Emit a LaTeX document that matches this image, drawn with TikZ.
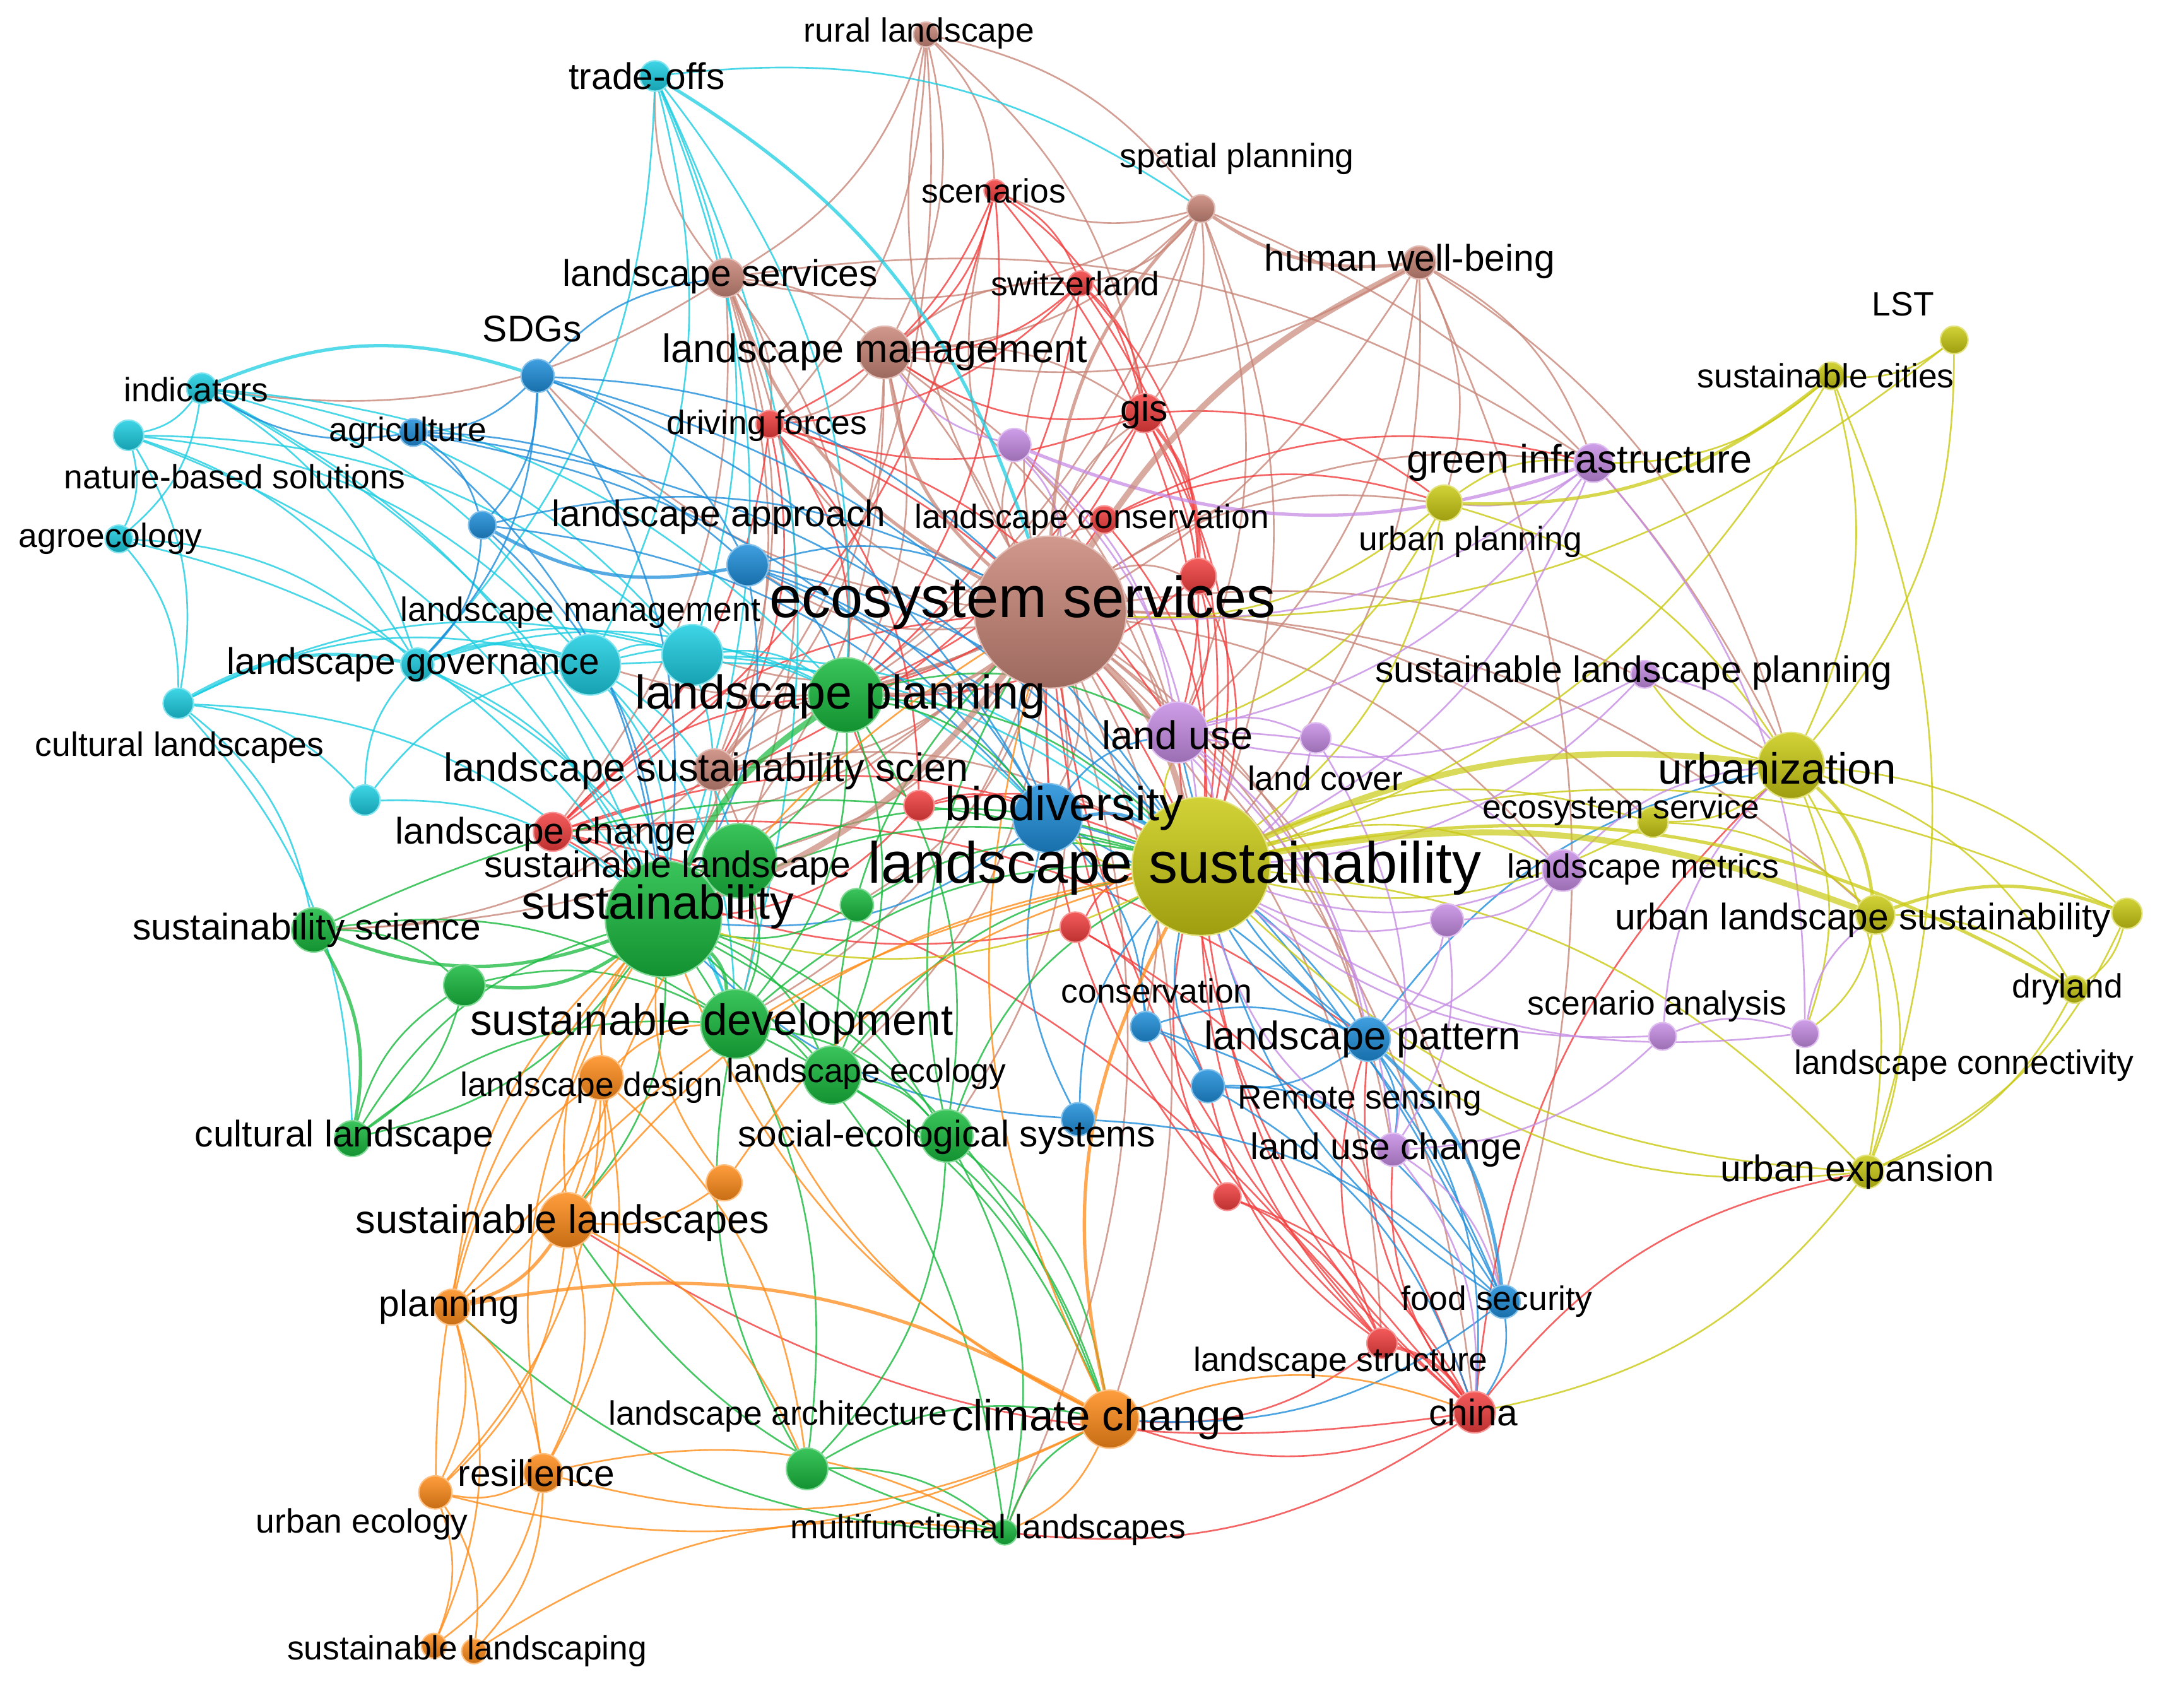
\documentclass[tikz,border=0pt]{standalone}
\usepackage{fontspec}
\setmainfont{Liberation Sans}
\usetikzlibrary{backgrounds}

\definecolor{cbrown}{RGB}{201,134,120}
\definecolor{cred}{RGB}{242,62,62}
\definecolor{ccyan}{RGB}{28,206,226}
\definecolor{cblue}{RGB}{30,142,218}
\definecolor{cgreen}{RGB}{24,186,62}
\definecolor{corange}{RGB}{255,140,26}
\definecolor{cyellow}{RGB}{202,202,20}
\definecolor{cpurple}{RGB}{198,140,228}

\tikzset{
  kw/.style 2 args={circle, inner sep=0pt, minimum size=#1pt, top color=#2!85!white, bottom color=#2!78!black, draw=#2!55!white, line width=0.5pt},
  lnk/.style={draw=#1, line width=0.6pt, draw opacity=0.8},
  mid/.style={draw=#1, line width=1.2pt, draw opacity=0.75},
  hvy/.style={draw=#1, line width=2.2pt, draw opacity=0.7},
  lbA/.style={inner sep=0pt, font=\fontsize{12.2}{14}\selectfont},
  lbB/.style={inner sep=0pt, font=\fontsize{13.4}{15}\selectfont},
  lbC/.style={inner sep=0pt, font=\fontsize{14.4}{16}\selectfont},
  lbD/.style={inner sep=0pt, font=\fontsize{15.8}{18}\selectfont},
  lbE/.style={inner sep=0pt, font=\fontsize{17.2}{20}\selectfont},
  lbF/.style={inner sep=0pt, font=\fontsize{21}{24}\selectfont},
}

\begin{document}
\begin{tikzpicture}[x=0.5pt, y=-0.5pt]
\useasboundingbox (0,0) rectangle (1568,1236);

% keywords, brown cluster
\node[kw={9}{cbrown}] (rural) at (670,25) {};
\node[kw={10}{cbrown}] (spatial) at (869,151) {};
\node[kw={12}{cbrown}] (hwb) at (1027,190) {};
\node[kw={14}{cbrown}] (lserv) at (525,201) {};
\node[kw={19}{cbrown}] (lmgmt) at (640,255) {};
\node[kw={15}{cbrown}] (lss) at (517,557) {};
% red cluster
\node[kw={8}{cred}] (scen) at (720,138) {};
\node[kw={9}{cred}] (swiss) at (782,205) {};
\node[kw={14}{cred}] (gis) at (828,299) {};
\node[kw={10}{cred}] (drive) at (557,307) {};
\node[kw={10}{cred}] (lcons) at (799,376) {};
\node[kw={13}{cred}] (red1) at (867,417) {};
\node[kw={11}{cred}] (red2) at (665,583) {};
\node[kw={14}{cred}] (lchange) at (400,602) {};
\node[kw={11}{cred}] (red3) at (778,671) {};
\node[kw={10}{cred}] (red4) at (888,866) {};
\node[kw={11}{cred}] (lstruct) at (1000,972) {};
\node[kw={15}{cred}] (china) at (1067,1022) {};
% cyan cluster
\node[kw={11}{ccyan}] (trade) at (474,55) {};
\node[kw={11}{ccyan}] (indic) at (146,281) {};
\node[kw={11}{ccyan}] (nbs) at (93,315) {};
\node[kw={10}{ccyan}] (agroeco) at (86,390) {};
\node[kw={11}{ccyan}] (cultls) at (129,509) {};
\node[kw={12}{ccyan}] (lgov) at (302,481) {};
\node[kw={22}{ccyan}] (cyan1) at (427,481) {};
\node[kw={22}{ccyan}] (lmgmtc) at (501,474) {};
\node[kw={11}{ccyan}] (cyan2) at (264,579) {};
% blue cluster
\node[kw={12}{cblue}] (sdgs) at (389,272) {};
\node[kw={10}{cblue}] (agri) at (299,313) {};
\node[kw={10}{cblue}] (blue1) at (349,380) {};
\node[kw={15}{cblue}] (lapp) at (541,409) {};
\node[kw={11}{cblue}] (cons) at (829,743) {};
\node[kw={12}{cblue}] (remote) at (874,786) {};
\node[kw={12}{cblue}] (blue2) at (780,810) {};
\node[kw={12}{cblue}] (food) at (1088,942) {};
% green cluster
\node[kw={27}{cgreen}] (lplan) at (612,503) {};
\node[kw={42}{cgreen}] (sust) at (480,665) {};
\node[kw={27}{cgreen}] (sustl) at (535,623) {};
\node[kw={12}{cgreen}] (green1) at (620,655) {};
\node[kw={16}{cgreen}] (sustsci) at (227,673) {};
\node[kw={15}{cgreen}] (green2) at (336,713) {};
\node[kw={25}{cgreen}] (sdev) at (532,741) {};
\node[kw={21}{cgreen}] (leco) at (602,778) {};
\node[kw={19}{cgreen}] (ses) at (685,822) {};
\node[kw={13}{cgreen}] (cultl) at (255,824) {};
\node[kw={15}{cgreen}] (larch) at (584,1063) {};
\node[kw={9}{cgreen}] (multi) at (727,1109) {};
% orange cluster
\node[kw={16}{corange}] (ldesign) at (435,780) {};
\node[kw={13}{corange}] (orange1) at (524,856) {};
\node[kw={20}{corange}] (sustls) at (410,883) {};
\node[kw={13}{corange}] (plan) at (327,946) {};
\node[kw={21}{corange}] (climate) at (803,1027) {};
\node[kw={14}{corange}] (resil) at (393,1066) {};
\node[kw={12}{corange}] (urbeco) at (315,1080) {};
\node[kw={9}{corange}] (sland1) at (314,1191) {};
\node[kw={9}{corange}] (sland2) at (343,1195) {};
% yellow cluster
\node[kw={10}{cyellow}] (lst) at (1414,246) {};
\node[kw={10}{cyellow}] (scities) at (1325,272) {};
\node[kw={13}{cyellow}] (uplan) at (1045,364) {};
\node[kw={24}{cyellow}] (urban) at (1296,554) {};
\node[kw={11}{cyellow}] (esvc) at (1196,595) {};
\node[kw={14}{cyellow}] (uls) at (1357,662) {};
\node[kw={11}{cyellow}] (yellow1) at (1539,661) {};
\node[kw={10}{cyellow}] (dry) at (1501,716) {};
\node[kw={12}{cyellow}] (uexp) at (1351,848) {};
% purple cluster
\node[kw={14}{cpurple}] (ginfra) at (1153,335) {};
\node[kw={12}{cpurple}] (purple1) at (734,322) {};
\node[kw={22}{cpurple}] (landuse) at (852,530) {};
\node[kw={11}{cpurple}] (lcover) at (952,534) {};
\node[kw={10}{cpurple}] (slp) at (1190,488) {};
\node[kw={15}{cpurple}] (lmetric) at (1131,630) {};
\node[kw={12}{cpurple}] (purple2) at (1047,666) {};
\node[kw={10}{cpurple}] (scenan) at (1203,750) {};
\node[kw={10}{cpurple}] (lconn) at (1306,748) {};
\node[kw={12}{cpurple}] (luc) at (1008,832) {};
% big ones on top
\node[kw={25}{cblue}] (biodiv) at (758,592) {};
\node[kw={16}{cblue}] (lpat) at (990,752) {};
\node[kw={50}{cyellow}] (lsust) at (869,627) {};
\node[kw={55}{cbrown}] (eco) at (760,443) {};

% labels
\node[lbA] (rural-t) at (665,24) {rural landscape};
\node[lbA] (spatial-t) at (895,115) {spatial planning};
\node[lbB] (hwb-t) at (1020,189) {human well-being};
\node[lbB] (lserv-t) at (521,200) {landscape services};
\node[lbC] (lmgmt-t) at (633,255) {landscape management};
\node[lbF] (eco-t) at (740,436) {ecosystem services};
\node[lbC] (lss-t) at (511,558) {landscape sustainability scien};
\node[lbA] (scen-t) at (719,138) {scenarios};
\node[lbA] (swiss-t) at (778,205) {switzerland};
\node[lbB] (gis-t) at (828,298) {gis};
\node[lbA] (drive-t) at (555,308) {driving forces};
\node[lbA] (lcons-t) at (790,376) {landscape conservation};
\node[lbB] (lchange-t) at (395,604) {landscape change};
\node[lbA] (lstruct-t) at (970,986) {landscape structure};
\node[lbB] (china-t) at (1066,1022) {china};
\node[lbB] (trade-t) at (468,55) {trade-offs};
\node[lbA] (indic-t) at (142,282) {indicators};
\node[lbA] (nbs-t) at (170,345) {nature-based solutions};
\node[lbA] (agroeco-t) at (80,390) {agroecology};
\node[lbA] (cultls-t) at (130,541) {cultural landscapes};
\node[lbB] (lgov-t) at (299,481) {landscape governance};
\node[lbA] (lmgmtc-t) at (420,443) {landscape management};
\node[lbB] (sdgs-t) at (385,238) {SDGs};
\node[lbA] (agri-t) at (295,313) {agriculture};
\node[lbB] (lapp-t) at (520,374) {landscape approach};
\node[lbE] (biodiv-t) at (770,585) {biodiversity};
\node[lbA] (cons-t) at (837,717) {conservation};
\node[lbC] (lpat-t) at (986,752) {landscape pattern};
\node[lbA] (remote-t) at (984,796) {Remote sensing};
\node[lbA] (food-t) at (1083,942) {food security};
\node[lbE] (lplan-t) at (608,504) {landscape planning};
\node[lbE] (sust-t) at (476,656) {sustainability};
\node[lbB] (sustl-t) at (483,628) {sustainable landscape};
\node[lbB] (sustsci-t) at (222,673) {sustainability science};
\node[lbD] (sdev-t) at (515,741) {sustainable development};
\node[lbA] (leco-t) at (627,777) {landscape ecology};
\node[lbB] (ses-t) at (685,823) {social-ecological systems};
\node[lbB] (cultl-t) at (249,823) {cultural landscape};
\node[lbA] (larch-t) at (563,1025) {landscape architecture};
\node[lbA] (multi-t) at (715,1107) {multifunctional landscapes};
\node[lbA] (ldesign-t) at (428,787) {landscape design};
\node[lbC] (sustls-t) at (407,885) {sustainable landscapes};
\node[lbB] (plan-t) at (325,946) {planning};
\node[lbD] (climate-t) at (795,1027) {climate change};
\node[lbB] (resil-t) at (388,1066) {resilience};
\node[lbA] (urbeco-t) at (262,1103) {urban ecology};
\node[lbA] (sland-t) at (338,1195) {sustainable landscaping};
\node[lbA] (lst-t) at (1377,220) {LST};
\node[lbA] (scities-t) at (1321,272) {sustainable cities};
\node[lbA] (uplan-t) at (1064,392) {urban planning};
\node[lbF] (lsust-t) at (850,628) {landscape sustainability};
\node[lbD] (urban-t) at (1286,556) {urbanization};
\node[lbA] (esvc-t) at (1173,586) {ecosystem service};
\node[lbB] (uls-t) at (1348,666) {urban landscape sustainability};
\node[lbA] (dry-t) at (1496,716) {dryland};
\node[lbB] (uexp-t) at (1344,848) {urban expansion};
\node[lbC] (ginfra-t) at (1143,335) {green infrastructure};
\node[lbC] (landuse-t) at (852,532) {land use};
\node[lbA] (lcover-t) at (959,563) {land cover};
\node[lbB] (slp-t) at (1182,487) {sustainable landscape planning};
\node[lbA] (lmetric-t) at (1189,629) {landscape metrics};
\node[lbA] (scenan-t) at (1199,728) {scenario analysis};
\node[lbA] (lconn-t) at (1421,771) {landscape connectivity};
\node[lbB] (luc-t) at (1003,832) {land use change};

\begin{pgfonlayer}{background}
\fill[white] (0,0) rectangle (1568,1236);
% links
\foreach \a/\b in {eco/biodiv, eco/landuse, eco/lss, eco/sdev, eco/urban, eco/sdgs, eco/gis, eco/drive, eco/scen, eco/swiss, eco/rural, eco/climate, eco/leco, eco/ses, eco/lchange, eco/lapp, eco/lmgmtc, eco/cyan1, eco/uplan, eco/ginfra, eco/china, eco/lpat, eco/food, eco/lstruct, eco/multi, eco/luc, eco/cons, eco/lmetric, eco/esvc, eco/red1, eco/lcons, eco/purple1, eco/sustl, eco/uls, eco/sustsci, eco/green1,
  rural/lserv, rural/lmgmt, rural/scen, rural/drive, rural/gis, rural/spatial, rural/lss,
  spatial/lmgmt, spatial/swiss, spatial/gis, spatial/lss, spatial/lplan, spatial/urban, spatial/lsust, spatial/landuse, spatial/scen, spatial/lserv,
  hwb/lmgmt, hwb/uplan, hwb/ginfra, hwb/landuse, hwb/lplan, hwb/food, hwb/urban, hwb/lsust,
  lserv/lmgmt, lserv/lss, lserv/lplan, lserv/sust, lserv/ginfra, lserv/trade, lserv/drive, lserv/lchange, lserv/sustl, lserv/indic,
  lmgmt/lplan, lmgmt/sust, lmgmt/lss, lmgmt/lsust, lmgmt/drive, lmgmt/gis, lmgmt/swiss, lmgmt/landuse, lmgmt/biodiv,
  lss/sust, lss/lsust, lss/lplan, lss/sustsci, lss/sdev}
  \draw[lnk=cbrown] (\a) to[bend left=20] (\b);
\foreach \a/\b in {scen/lmgmt, scen/gis, scen/swiss, scen/drive, scen/lsust, scen/lplan, scen/lchange,
  swiss/gis, swiss/lmgmt, swiss/lplan, swiss/drive, swiss/lsust, swiss/red1,
  gis/lmgmt, gis/lsust, gis/landuse, gis/lchange, gis/lplan, gis/drive, gis/uplan,
  drive/lsust, drive/landuse, drive/lchange, drive/lplan, drive/red2, drive/lss,
  lcons/lsust, lcons/lplan, lcons/uplan, lcons/ginfra,
  red1/lsust, red1/lplan, red1/landuse, red2/biodiv, red2/lsust, red2/lplan, red2/sust,
  lchange/sust, lchange/lplan, lchange/lsust, lchange/eco, lchange/lpat, lchange/lstruct,
  red3/lsust, red3/lchange, red3/remote, red3/china, red4/lstruct, red4/china, red4/lsust, red4/eco,
  lstruct/lpat, lstruct/lsust, lstruct/remote, lstruct/eco, lstruct/climate,
  china/lsust, china/urban, china/uexp, china/landuse, china/lpat, china/luc, china/climate, china/eco, china/multi, china/sustls}
  \draw[lnk=cred] (\a) to[bend left=20] (\b);
\foreach \a/\b in {trade/lgov, trade/cyan1, trade/lmgmtc, trade/lplan, trade/sust, trade/sdev, trade/spatial,
  indic/lgov, indic/cyan1, indic/nbs, indic/agroeco, indic/sust, indic/sdev, indic/lmgmtc, indic/lplan,
  nbs/lgov, nbs/cyan1, nbs/sust, nbs/agroeco, nbs/cultls, nbs/lmgmtc,
  agroeco/cultls, agroeco/lgov, agroeco/sust,
  cultls/cyan1, cultls/sust, cultls/sustsci, cultls/cultl, cultls/lmgmtc, cultls/cyan2,
  lgov/lmgmtc, lgov/sust, lgov/lplan, lgov/sdev,
  cyan1/lmgmtc, cyan1/lplan, cyan1/sust, cyan1/lsust, cyan1/sdev, cyan1/sustl,
  lmgmtc/lplan, lmgmtc/lsust, lmgmtc/sust, lmgmtc/biodiv,
  cyan2/sust, cyan2/lgov, cyan2/cyan1}
  \draw[lnk=ccyan] (\a) to[bend left=20] (\b);
\foreach \a/\b in {sdgs/agri, sdgs/blue1, sdgs/lapp, sdgs/eco, sdgs/sust, sdgs/biodiv, sdgs/lsust, sdgs/lserv, sdgs/lgov,
  agri/blue1, agri/lapp, agri/biodiv, agri/sust, agri/lsust, agri/indic,
  blue1/biodiv, blue1/eco, blue1/lgov, blue1/sust,
  lapp/eco, lapp/biodiv, lapp/lsust, lapp/sust, lapp/lplan, lapp/food,
  biodiv/eco, biodiv/cons, biodiv/lpat, biodiv/food, biodiv/sust, biodiv/landuse,
  cons/lsust, cons/lpat, cons/remote, cons/food,
  lpat/lsust, lpat/landuse, lpat/remote, lpat/urban, lpat/luc, lpat/china,
  remote/lsust, remote/luc, remote/china,
  blue2/sust, blue2/lsust, blue2/food, blue2/biodiv,
  food/lsust, food/climate, food/china}
  \draw[lnk=cblue] (\a) to[bend left=20] (\b);
\foreach \a/\b in {lplan/lsust, lplan/sdev, lplan/landuse, lplan/biodiv, lplan/sustl, lplan/leco, lplan/ses,
  sust/lsust, sust/leco, sust/ses, sust/larch, sust/multi, sust/climate, sust/sustls, sust/sustl, sust/cultl,
  sustl/lsust, sustl/sdev, green1/lsust, green1/sust,
  sustsci/sdev, sustsci/green2, sustsci/lsust,
  green2/sdev, green2/cultl,
  sdev/lsust, sdev/leco, sdev/ses, sdev/climate,
  leco/lsust, leco/eco, leco/ses, leco/climate,
  ses/lsust, ses/eco, ses/climate, ses/multi, ses/larch,
  cultl/sust, cultl/sdev, cultl/green2,
  larch/sdev, larch/multi, larch/climate,
  multi/climate, multi/sustls, multi/plan}
  \draw[lnk=cgreen] (\a) to[bend left=20] (\b);
\foreach \a/\b in {ldesign/sust, ldesign/sdev, ldesign/sustls, ldesign/plan, ldesign/resil, ldesign/urbeco, ldesign/larch,
  orange1/sust, orange1/lsust, orange1/sustls,
  sustls/sust, sustls/lsust, sustls/eco, sustls/resil, sustls/urbeco, sustls/larch,
  plan/sust, plan/lsust, plan/resil, plan/urbeco, plan/ldesign, plan/sland1,
  climate/eco, climate/sust, climate/sdev, climate/china, climate/resil, climate/urbeco, climate/multi,
  resil/urbeco, resil/sland1, resil/sland2, resil/sust, resil/multi,
  urbeco/sland1, urbeco/sland2, urbeco/sust, sland2/multi}
  \draw[lnk=corange] (\a) to[bend left=20] (\b);
\foreach \a/\b in {lst/scities, lst/urban, lst/eco,
  scities/urban, scities/uexp, scities/ginfra, scities/lsust,
  uplan/lsust, uplan/eco, uplan/ginfra, uplan/urban, uplan/landuse,
  lsust/yellow1, lsust/uexp, lsust/esvc, lsust/lmetric, lsust/landuse, lsust/biodiv, lsust/sust,
  urban/dry, urban/yellow1, urban/uexp, urban/esvc, urban/lconn, urban/slp,
  esvc/lsust, esvc/uls,
  uls/dry, uls/uexp, uls/lconn,
  yellow1/dry, yellow1/uexp, dry/uexp,
  uexp/lsust, uexp/lpat, uexp/china}
  \draw[lnk=cyellow] (\a) to[bend left=20] (\b);
\foreach \a/\b in {ginfra/uplan, ginfra/eco, ginfra/lsust, ginfra/lconn, ginfra/landuse,
  purple1/eco, purple1/lsust, purple1/landuse, purple1/lmgmt,
  landuse/lsust, landuse/lcover, landuse/luc, landuse/lpat, landuse/lmetric,
  lcover/lsust, lcover/luc, slp/lsust, slp/urban, slp/landuse,
  lmetric/lsust, lmetric/urban, lmetric/lpat, lmetric/purple2,
  purple2/lsust, purple2/lpat, purple2/luc,
  scenan/lsust, scenan/luc, scenan/urban, scenan/lconn,
  lconn/lsust, lconn/uls, luc/lsust, luc/china, luc/food}
  \draw[lnk=cpurple] (\a) to[bend left=20] (\b);
% heavier links
\foreach \a/\b/\c in {eco/lmgmt/cbrown, eco/spatial/cbrown, eco/lserv/cbrown, eco/lplan/cbrown, hwb/spatial/cbrown,
  trade/eco/ccyan, cultls/lgov/ccyan, indic/sdgs/ccyan, lgov/cyan1/ccyan,
  sust/sdev/cgreen, sust/sustsci/cgreen, sustsci/cultl/cgreen, sust/green2/cgreen,
  plan/climate/corange, climate/lsust/corange, sustls/plan/corange,
  lstruct/china/cred, gis/red1/cred,
  lsust/dry/cyellow, urban/uls/cyellow, uls/yellow1/cyellow, scities/uplan/cyellow,
  biodiv/lsust/cblue, lpat/food/cblue, lapp/blue1/cblue, ginfra/purple1/cpurple}
  \draw[mid=\c] (\a) to[bend left=20] (\b);
\foreach \a/\b/\c in {eco/lsust/cbrown, eco/hwb/cbrown, eco/sust/cbrown, lsust/urban/cyellow, lsust/uls/cyellow, sust/lplan/cgreen}
  \draw[hvy=\c] (\a) to[bend left=15] (\b);
\end{pgfonlayer}
\end{tikzpicture}
\end{document}
